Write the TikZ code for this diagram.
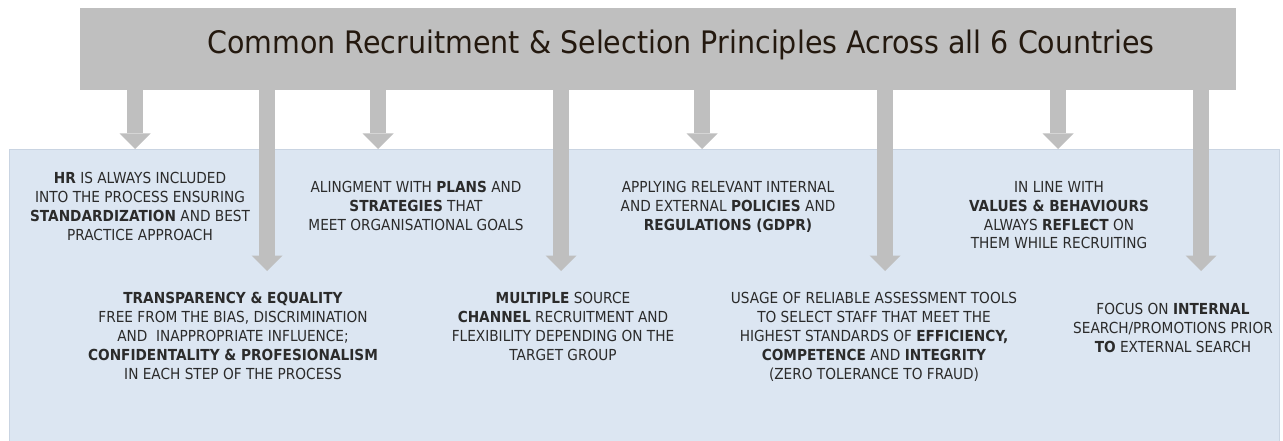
\documentclass[tikz,border=0pt]{standalone}
\usepackage{fontspec}
\setmainfont{DejaVu Sans}[FakeStretch=0.9]
\newfontfamily\titlefont{DejaVu Sans}[FakeStretch=0.92]
\usetikzlibrary{arrows.meta}
\definecolor{boxgrey}{HTML}{BFBFBF}
\definecolor{panelblue}{HTML}{DCE6F2}
\definecolor{panelline}{HTML}{C9D4E2}
\definecolor{bodytext}{HTML}{2B2B2B}
\definecolor{titletext}{HTML}{24190F}
\tikzset{
  headbox/.style={fill=boxgrey, draw=none, minimum width=1156pt, minimum height=82pt, inner sep=0pt},
  panelbox/.style={fill=panelblue, draw=panelline, line width=0.8pt, minimum width=1270pt, minimum height=300pt, inner sep=0pt},
  headline/.style={font=\titlefont\fontsize{31}{36}\selectfont, text=titletext, inner sep=0pt, anchor=base},
  principle/.style={font=\fontsize{15.2}{18.9}\selectfont, text=bodytext, align=center, inner sep=0pt, anchor=north},
  downarrow/.style={draw=boxgrey, line width=16.5pt, -{Triangle[width=31pt,length=15.5pt,line width=0pt]}}
}
\begin{document}
\begin{tikzpicture}[x=1pt,y=-1pt]
\useasboundingbox (0,0) rectangle (1283,441);

% heading bar and background panel
\node[headbox] (head) at (658,49) {};
\node[headline] (title) at (681,54) {Common Recruitment \& Selection Principles Across all 6 Countries};
\node[panelbox] (panel) at (644,299) {};

% end points of the arrows
\coordinate (s1) at (135,149);
\coordinate (s2) at (378,149);
\coordinate (s3) at (702,149);
\coordinate (s4) at (1058,149);
\coordinate (l1) at (267,271);
\coordinate (l2) at (561,271);
\coordinate (l3) at (885,271);
\coordinate (l4) at (1201,271);

\foreach \e in {s1,s2,s3,s4,l1,l2,l3,l4}
  \draw[downarrow] (\e |- head.south) -- (\e);

% upper row of principles
\node[principle] (p1) at (140,172) {\textbf{HR} IS ALWAYS INCLUDED\\INTO THE PROCESS ENSURING\\\textbf{STANDARDIZATION} AND BEST\\PRACTICE APPROACH};
\node[principle] (p2) at (416,181) {ALINGMENT WITH \textbf{PLANS} AND\\\textbf{STRATEGIES} THAT\\MEET ORGANISATIONAL GOALS};
\node[principle] (p3) at (728,181) {APPLYING RELEVANT INTERNAL\\AND EXTERNAL \textbf{POLICIES} AND\\\textbf{REGULATIONS (GDPR)}};
\node[principle] (p4) at (1059,181) {IN LINE WITH\\\textbf{VALUES \& BEHAVIOURS}\\ALWAYS \textbf{REFLECT} ON\\THEM WHILE RECRUITING};

% lower row of principles
\node[principle] (p5) at (233,292) {\textbf{TRANSPARENCY \& EQUALITY}\\FREE FROM THE BIAS, DISCRIMINATION\\AND \ INAPPROPRIATE INFLUENCE;\\\textbf{CONFIDENTALITY \& PROFESIONALISM}\\IN EACH STEP OF THE PROCESS};
\node[principle] (p6) at (563,292) {\textbf{MULTIPLE} SOURCE\\\textbf{CHANNEL} RECRUITMENT AND\\FLEXIBILITY DEPENDING ON THE\\TARGET GROUP};
\node[principle] (p7) at (874,292) {USAGE OF RELIABLE ASSESSMENT TOOLS\\TO SELECT STAFF THAT MEET THE\\HIGHEST STANDARDS OF \textbf{EFFICIENCY,}\\\textbf{COMPETENCE} AND \textbf{INTEGRITY}\\(ZERO TOLERANCE TO FRAUD)};
\node[principle] (p8) at (1173,303) {FOCUS ON \textbf{INTERNAL}\\SEARCH/PROMOTIONS PRIOR\\\textbf{TO} EXTERNAL SEARCH};
\end{tikzpicture}
\end{document}
